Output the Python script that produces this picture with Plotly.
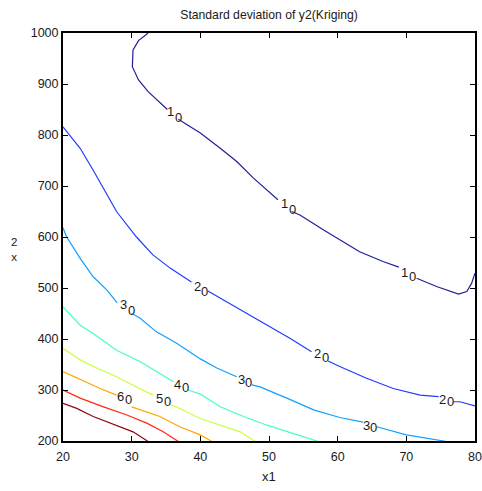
import plotly.graph_objects as go

# Contour levels and their colours (jet colormap)
levels = [10, 20, 30, 40, 50, 60, 70, 80]
level_colors = ["#20209a", "#1e3cff", "#10a0ff", "#40ffc8", "#c8ff3c", "#ffa500", "#ff2a10", "#8b0a0a"]

# Contour line points (x1, x2); None = gap for a label
c10_x = [32.4, 31.0, 30.2, 30.1, 31.0, 32.4, 35.2, None, 36.8, 40.0, 42.9, 45.3, 47.7, 51.3, None, 53.3, 54.5, 57.9, 60.3, 63.2, 66.6, 68.9, None, 71.5, 74.4, 77.6, 78.8, 79.5, 80.0]
c10_y = [1000, 985, 967, 934, 908, 885, 850, None, 831, 804, 774, 748, 716, 673, None, 650, 643, 614, 594, 571, 552, 541, None, 519, 503, 488, 493, 509, 529]

c20_x = [20.0, 22.5, 24.4, 25.9, 27.8, 30.7, 33.1, 35.6, 38.7, None, 41.1, 43.8, 46.7, 49.7, 53.1, 56.2, None, 58.6, 60.3, 64.2, 68.1, 72.0, 74.7, None, 76.8, 77.8, 80.0]
c20_y = [816, 774, 731, 695, 650, 600, 565, 539, 512, None, 494, 473, 450, 427, 401, 375, None, 357, 346, 323, 303, 290, 287, None, 277, 277, 269]

c30_x = [20.0, 20.5, 22.5, 24.4, 26.4, 27.9, None, 30.0, 31.2, 33.6, 36.5, 40.0, 42.4, 45.3, None, 47.5, 48.7, 52.6, 56.5, 60.3, 63.7, None, 65.7, 70.0, 75.9]
c30_y = [618, 601, 558, 522, 496, 471, None, 450, 441, 414, 392, 361, 343, 326, None, 310, 306, 284, 261, 246, 237, None, 228, 212, 199]

c40_x = [20.0, 22.5, 24.4, 27.8, 31.2, 34.1, 36.1, None, 38.2, 40.0, 42.9, 46.3, 49.7, 53.5, 57.2]
c40_y = [463, 427, 411, 378, 356, 333, 316, None, 300, 292, 267, 248, 231, 215, 199]

c50_x = [20.0, 22.5, 24.9, 27.8, 30.7, 33.1, None, 35.6, 36.5, 40.0, 42.9, 45.8, 48.0]
c50_y = [382, 359, 343, 326, 306, 290, None, 271, 267, 244, 231, 218, 199]

c60_x = [20.0, 22.5, 25.4, 27.8, None, 30.0, 34.1, 37.0, 40.0, 41.7]
c60_y = [336, 320, 303, 290, None, 267, 248, 228, 212, 199]

c70_x = [20.0, 22.5, 25.9, 29.3, 32.2, 34.6, 36.8]
c70_y = [300, 284, 267, 251, 235, 218, 199]

c80_x = [20.0, 22.0, 24.4, 27.8, 30.2, 32.4]
c80_y = [274, 264, 248, 231, 218, 199]

contour_x = [c10_x, c20_x, c30_x, c40_x, c50_x, c60_x, c70_x, c80_x]
contour_y = [c10_y, c20_y, c30_y, c40_y, c50_y, c60_y, c70_y, c80_y]

# Contour labels: text, position
label_text = ["10", "10", "10", "20", "20", "20", "30", "30", "30", "40", "50", "60"]
label_x = [36.2, 52.8, 70.3, 40.1, 57.6, 75.8, 29.4, 46.5, 64.7, 37.3, 34.6, 29.0]
label_y = [841, 660, 527, 498, 367, 280, 461, 317, 229, 308, 280, 284]
# vertical stagger (px) of the characters along the local line slope
label_drop = [6, 6, 4, 5, 4, 2, 6, 3, 2, 3, 3, 3]

x_ticks = [20, 30, 40, 50, 60, 70, 80]
y_ticks = [200, 300, 400, 500, 600, 700, 800, 900, 1000]

FONT = "Liberation Sans, Arial, Helvetica, sans-serif"
TXT = "#1a1a1a"

fig = go.Figure()
for lev, col, xs, ys in zip(levels, level_colors, contour_x, contour_y):
    fig.add_trace(go.Scatter(x=xs, y=ys, mode="lines", name=str(lev),
                             line=dict(color=col, width=1.2), connectgaps=False,
                             hoverinfo="skip"))

annotations = []
for t, lx, ly, d in zip(label_text, label_x, label_y, label_drop):
    n = len(t)
    for i, ch in enumerate(t):
        k = i - (n - 1) / 2
        annotations.append(dict(x=lx, y=ly, xref="x", yref="y", text=ch, showarrow=False,
                                xshift=k * 7.8, yshift=-k * d, borderpad=0,
                                font=dict(family=FONT, size=13, color=TXT)))

# axis titles
annotations.append(dict(x=0.5, y=0, xref="paper", yref="paper", text="x1", showarrow=False,
                        yanchor="middle", yshift=-35, font=dict(family=FONT, size=13, color=TXT)))
annotations.append(dict(x=0, y=0.5, xref="paper", yref="paper", text="2<br>x", showarrow=False,
                        xanchor="center", yanchor="middle", xshift=-49, yshift=-12,
                        font=dict(family=FONT, size=11.5, color=TXT)))

axis_common = dict(showline=True, linecolor="black", linewidth=2, mirror="ticks",
                   ticks="inside", ticklen=5, tickwidth=1, tickcolor="black",
                   showgrid=False, zeroline=False, automargin=False,
                   tickfont=dict(family=FONT, size=12.5, color=TXT))

fig.update_layout(
    width=482, height=491,
    margin=dict(l=63, r=7, t=33, b=50),
    paper_bgcolor="white", plot_bgcolor="white",
    showlegend=False,
    title=dict(text="Standard deviation of y2(Kriging)", x=269 / 482, xanchor="center",
               y=1 - 15 / 491, yanchor="middle", yref="container",
               font=dict(family=FONT, size=12.2, color=TXT)),
    xaxis=dict(range=[20, 80], tickvals=x_ticks, ticklabelstandoff=3, **axis_common),
    yaxis=dict(range=[200, 1000], tickvals=y_ticks, ticklabelstandoff=0, **axis_common),
    annotations=annotations,
)

fig.write_html("out.html")
